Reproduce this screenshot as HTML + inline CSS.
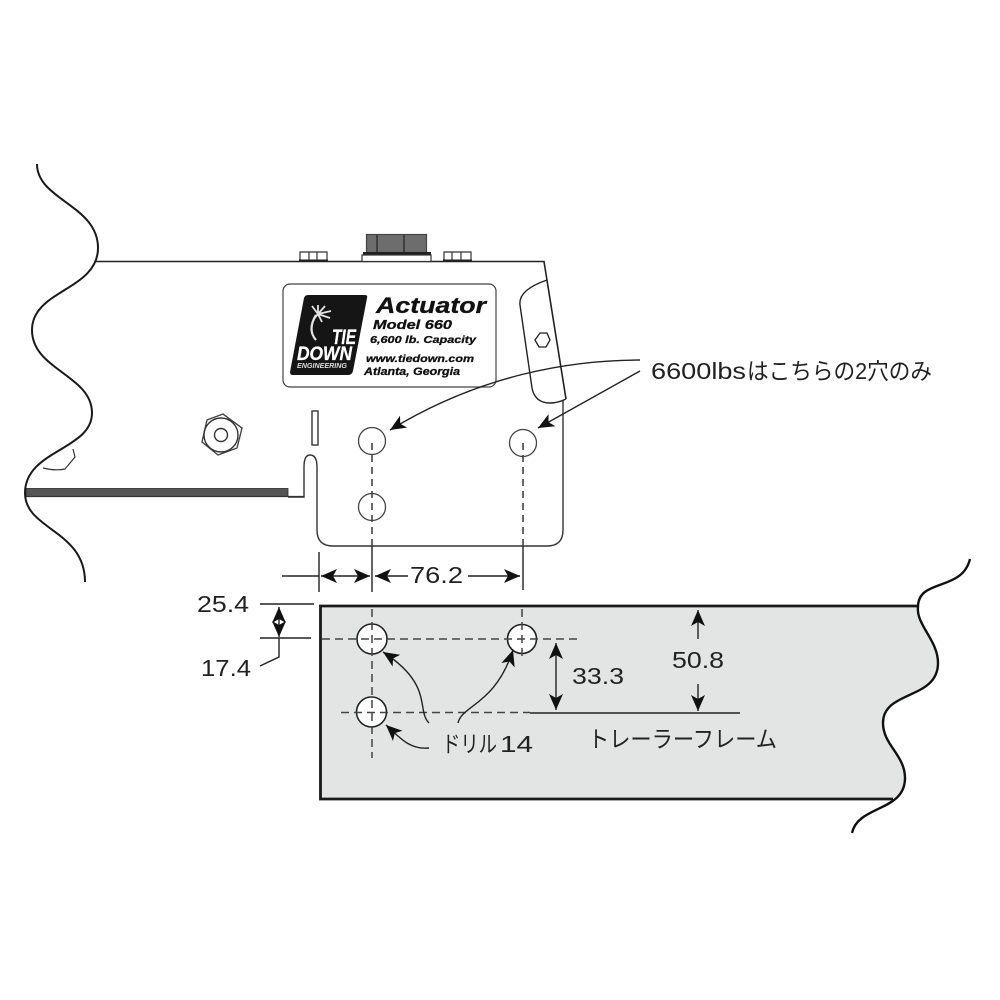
<!DOCTYPE html>
<html>
<head>
<meta charset="utf-8">
<style>
html,body{margin:0;padding:0;background:#fff;width:1000px;height:1000px;overflow:hidden}
svg{display:block}
.l{fill:#222;font-family:"Liberation Sans","Noto Sans CJK JP",sans-serif;font-size:23px}
.b{font-family:"Liberation Sans",sans-serif;font-weight:bold;font-style:italic;fill:#111;stroke:#111;stroke-width:.3}
.w{fill:#fff;stroke:#fff}
</style>
</head>
<body>
<svg width="1000" height="1000" viewBox="0 0 1000 1000" xmlns="http://www.w3.org/2000/svg">
<defs>
<marker id="a" markerUnits="userSpaceOnUse" markerWidth="18" markerHeight="14" refX="16" refY="7" orient="auto-start-reverse">
<path d="M0,0 L16,7 L0,14 L4,7 Z" fill="#111"/>
</marker>
</defs>
<rect width="1000" height="1000" fill="#fff"/>

<!-- actuator body -->
<g fill="none" stroke="#333" stroke-width="1.4">
<path d="M96,261.5 H544 L566,399" stroke="#222" stroke-width="1.6"/>
<path d="M563,400 V530 Q563,546 547,546 H333 Q317,546 317,530 V467 Q317,455 310,455 Q304,455 304,467 V497 H288"/>
<path d="M547,280 Q518,290 520,305 L532,388 Q535,403 550,403 Q558,403 566,399" stroke="#222"/>
<path d="M535,340 L540,333 L547,333 L550,340 L546,347 L539,347 Z" stroke="#222" stroke-width="1.3"/>
<rect x="312" y="411" width="6" height="34"/>
<path d="M202,442 L207,420 L223,414 L242,428 L237,448 L218,455 Z" stroke="#444"/>
<circle cx="221" cy="435" r="17" stroke="#333"/>
<circle cx="221" cy="435" r="6.5" stroke="#333"/>
<path d="M43,468 Q55,471 65,469 L75,457 L73,449" stroke="#333" stroke-width="1.2"/>
</g>

<!-- bolts -->
<g fill="#fff" stroke="#333" stroke-width="1.2">
<path d="M300,261 V252 H327 V261 M309,252 V261 M317,252 V261"/>
<path d="M444,261 V252 H471 V261 M452,252 V261 M461,252 V261"/>
<rect x="299" y="259.5" width="29" height="2" fill="#222" stroke="none"/>
<rect x="443" y="259.5" width="29" height="2" fill="#222" stroke="none"/>
<rect x="366.500" y="234.500" width="60" height="19" fill="#6d6d6d" stroke="#444"/>
<path d="M377,235 V253 M404,235 V253" stroke="#222"/>
<rect x="363" y="252" width="68" height="3" fill="#222" stroke="none"/>
<rect x="362" y="255" width="69" height="6.500" fill="#fff"/>
</g>

<!-- plate -->
<rect x="283" y="284" width="213" height="103" rx="7" fill="#fff" stroke="#444" stroke-width="1.2"/>
<path d="M308,295 H365 Q368,295 367,298 L353,371 Q352,375 348,375 H293 Q290,375 290,372 L304,298 Q305,295 308,295 Z" fill="#151515"/>
<g fill="none" stroke="#e4e4e4">
<path d="M316,315 Q307,330 316,340" stroke-width="2.200"/>
<path d="M318,314 L312,306 M318,314 L318,305 M318,314 L325,306 M318,314 L331,311 M318,314 L330,318 M318,314 L322,322 M318,314 L313,320" stroke-width="1.800"/>
</g>
<text class="b" x="376" y="313" font-size="22" textLength="110" lengthAdjust="spacingAndGlyphs">Actuator</text>
<text class="b" x="373" y="329" font-size="13" textLength="79" lengthAdjust="spacingAndGlyphs">Model 660</text>
<text class="b" x="370" y="343" font-size="10" textLength="106" lengthAdjust="spacingAndGlyphs">6,600 lb. Capacity</text>
<text class="b" x="366" y="362" font-size="10.500" textLength="108" lengthAdjust="spacingAndGlyphs">www.tiedown.com</text>
<text class="b" x="364" y="375" font-size="11" textLength="96" lengthAdjust="spacingAndGlyphs">Atlanta, Georgia</text>
<text class="b w" x="332" y="344" font-size="21" textLength="24" lengthAdjust="spacingAndGlyphs">TIE</text>
<text class="b w" x="297" y="360" font-size="19" textLength="55" lengthAdjust="spacingAndGlyphs">DOWN</text>
<text class="b" x="297" y="368" font-size="7" style="fill:#ddd;stroke:none" textLength="50" lengthAdjust="spacingAndGlyphs">ENGINEERING</text>

<!-- dark bar -->
<rect x="26" y="488.500" width="262" height="8" fill="#555" stroke="#2a2a2a" stroke-width="0.8"/>
<line x1="26" y1="496.500" x2="304" y2="496.500" stroke="#333" stroke-width="1.2"/>

<!-- left wave -->
<path d="M37,164 C37,200 98,205 98,248 C98,290 32,290 32,330 C32,370 92,375 92,413 C92,450 25,450 25,493 C25,530 85,530 85,582" fill="none" stroke="#1a1a1a" stroke-width="2"/>

<!-- upper holes -->
<g fill="#fff" stroke="#444" stroke-width="1.3">
<circle cx="372" cy="441" r="13.500"/>
<circle cx="372" cy="507" r="13.500"/>
<circle cx="523" cy="443" r="13.500"/>
</g>
<g stroke="#444" stroke-width="1.6" fill="none">
<path d="M372,443 V546" stroke-dasharray="7,5"/>
<path d="M523,443 V546" stroke-dasharray="7,5"/>
</g>

<!-- frame -->
<path d="M320,606 H918 C912,625 938,640 938,663 C938,700 883,690 883,723 C883,745 905,755 905,778 C905,788 900,795 893,799 H320 Z" fill="#e3e4e4"/>
<path d="M893,799 H320.500 V606 H918" fill="none" stroke="#1a1a1a" stroke-width="2.800"/>
<path d="M970,559 C962,592 918,578 918,607 C916,625 938,640 938,663 C938,700 883,690 883,723 C883,745 905,755 905,778 C905,812 858,805 852,833" fill="none" stroke="#111" stroke-width="2.400"/>

<!-- frame holes -->
<g fill="#fff" stroke="#222" stroke-width="1.6">
<circle cx="372" cy="639" r="15"/>
<circle cx="371.500" cy="712" r="15"/>
<circle cx="522" cy="639" r="14.500"/>
</g>
<g stroke="#444" stroke-width="1.5" fill="none" stroke-dasharray="8,5">
<path d="M322,639 H582"/>
<path d="M341,712.500 H530"/>
<path d="M372,609 V758"/>
<path d="M522,609 V660"/>
</g>

<!-- dimension lines -->
<g stroke="#222" stroke-width="1.4" fill="none">
<path d="M319,552 V592 M372,546 V592 M523,546 V590"/>
<path d="M282,576 H319"/>
<path d="M321,576 H370" marker-start="url(#a)" marker-end="url(#a)"/>
<path d="M375,576 H408" marker-start="url(#a)"/>
<path d="M468,576 H520" marker-end="url(#a)"/>
<path d="M260,604 H314 M260,638 H311"/>
<path d="M279,638 V657 L260,666"/>
<path d="M279,607 V637" marker-start="url(#a)" marker-end="url(#a)"/>
<path d="M530,713 H740"/>
<path d="M556,643 V710" marker-start="url(#a)" marker-end="url(#a)"/>
<path d="M698,610 V639" marker-start="url(#a)"/>
<path d="M698,684 V711" marker-end="url(#a)"/>
<path d="M640,360 C570,360 480,375 390,430" marker-end="url(#a)"/>
<path d="M640,371 L538,428" marker-end="url(#a)"/>
<path d="M429,723 C416,710 434,685 383,652" marker-end="url(#a)"/>
<path d="M458,723 C462,705 495,705 513,650" marker-end="url(#a)"/>
<path d="M429,748 C410,750 400,738 386,725" marker-end="url(#a)"/>
</g>

<!-- labels -->
<text class="l" x="651" y="379" textLength="95" lengthAdjust="spacingAndGlyphs">6600lbs</text>
<text class="l" x="747" y="379" textLength="185" lengthAdjust="spacingAndGlyphs">はこちらの2穴のみ</text>
<text class="l" x="410" y="583" textLength="53" lengthAdjust="spacingAndGlyphs">76.2</text>
<text class="l" x="197" y="612" textLength="52" lengthAdjust="spacingAndGlyphs">25.4</text>
<text class="l" x="201" y="676" textLength="50" lengthAdjust="spacingAndGlyphs">17.4</text>
<text class="l" x="572" y="684" textLength="52" lengthAdjust="spacingAndGlyphs">33.3</text>
<text class="l" x="672" y="668" textLength="52" lengthAdjust="spacingAndGlyphs">50.8</text>
<text class="l" x="442" y="752" textLength="55" lengthAdjust="spacingAndGlyphs">ドリル</text>
<text class="l" x="500" y="752" textLength="33" lengthAdjust="spacingAndGlyphs">14</text>
<text class="l" x="588" y="747" textLength="189" lengthAdjust="spacingAndGlyphs">トレーラーフレーム</text>
</svg>
</body>
</html>
